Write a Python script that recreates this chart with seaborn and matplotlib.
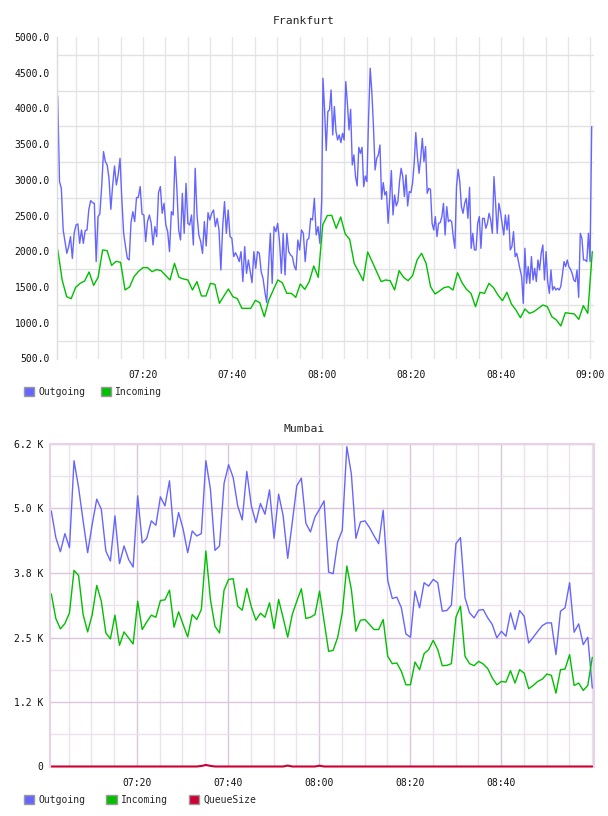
import numpy as np
import pandas as pd
import matplotlib
matplotlib.use("Agg")
import matplotlib.pyplot as plt
import matplotlib.dates as mdates
from matplotlib.patches import Patch
from matplotlib.ticker import FuncFormatter
import seaborn as sns

# Frankfurt - outgoing (two stretches: 07:01-08:00 and 08:00-09:00), incoming once a minute
fra_out_a = [
    4175, 2976, 2882, 2299, 2136, 1972, 2066, 2206, 1902, 2252,
    2369, 2383, 2112, 2299, 2112, 2290, 2299, 2588, 2710, 2682,
    2672, 1856, 2486, 2523, 2906, 3396, 3256, 3209, 3022, 2588,
    2929, 3195, 2929, 3069, 3302, 2719, 2252, 2066, 1902, 1879,
    2402, 2555, 2416, 2752, 2756, 2906, 2523, 2509, 2136, 2416,
    2509, 2392, 2089, 2346, 2206, 2822, 2906, 2532, 2672, 2369,
    2276, 1996, 2555, 2509, 3326, 2882, 2299, 2159, 2812, 2252,
    2952, 2392, 2369, 2509, 2089, 3162, 2509, 2229, 2136, 1972,
    2416, 2075, 2541, 2439, 2532, 2579, 2346, 2462, 2299, 1739,
    2346, 2696, 2252, 2579, 2206, 2182, 1926, 1981, 1926, 1856,
    1996, 1576, 2066, 1692, 1879, 1715, 1561, 1996, 1762, 1996,
    1972, 1715, 1622, 1435, 1281, 1786, 2252, 1552, 2346, 2276,
    2392, 2136, 1692, 2252, 1669, 2252, 1996, 1949, 1926, 1795,
    1739, 2159, 2019, 2299, 2252, 1856, 2159, 2182, 2462, 2439,
    2742, 2229, 2346, 2112, 2719,
]
fra_out_b = [
    4422,
    3979, 3410, 3956, 3979, 4259, 3629, 4026, 3676, 3559, 3629,
    3522, 3652, 3559, 4376, 4072, 3699, 3988, 3209, 3349, 3046,
    2915, 3456, 3372, 3456, 2906, 3055, 2976, 3862, 4562, 4236,
    3746, 3139, 3302, 3349, 3489, 2728, 2962, 2789, 2836, 2392,
    2742, 3130, 2509, 2789, 2635, 2696, 2976, 3162, 3046, 2766,
    3069, 2635, 2836, 2822, 2952, 3232, 3662, 3326, 3092, 3302,
    3582, 3256, 3466, 2812, 2882, 2868, 2392, 2299, 2486, 2206,
    2392, 2402, 2486, 2672, 2229, 2626, 2416, 2439, 2416, 2206,
    2042, 2906, 3148, 2976, 2626, 2532, 2672, 2742, 2462, 2896,
    2042, 2252, 2019, 2019, 2392, 2486, 2042, 2462, 2462, 2322,
    2392, 2532, 2439, 2252, 3046, 2672, 2252, 2672, 2555, 2392,
    2229, 2509, 2299, 2509, 2019, 2066, 2276, 1926, 1972, 1856,
    1748, 1646, 1272, 2042, 1552, 1786, 1552, 1926, 1599, 1762,
    1576, 1879, 1739, 1972, 2089, 1599, 1996, 1576, 1412, 1739,
    1459, 1505, 1459, 1482, 1459, 1505, 1669, 1856, 1786, 1879,
    1786, 1748, 1692, 1599, 1576, 1739, 1356, 2252, 2182, 1879,
    1879, 1856, 2252, 1856, 3746,
]
fra_in = [
    2028, 1599, 1365, 1337, 1496, 1552, 1585, 1711, 1524, 1636,
    2019, 2010, 1804, 1860, 1846, 1459, 1501, 1646, 1720, 1772,
    1772, 1715, 1744, 1730, 1664, 1599, 1832, 1636, 1613, 1599,
    1459, 1576, 1375, 1375, 1552, 1538, 1272, 1375, 1473, 1365,
    1337, 1202, 1202, 1202, 1314, 1281, 1085, 1319, 1459, 1599,
    1561, 1412, 1412, 1356, 1543, 1468, 1576, 1795, 1636, 2369,
    2500, 2504, 2322, 2481, 2243, 2168, 1832, 1715, 1589, 1991,
    1856, 1715, 1576, 1599, 1589, 1459, 1730, 1636, 1589, 1659,
    1879, 1972, 1832, 1505, 1403, 1445, 1492, 1505, 1459, 1701,
    1561, 1468, 1412, 1225, 1426, 1412, 1552, 1492, 1389, 1309,
    1426, 1263, 1179, 1071, 1193, 1132, 1155, 1202, 1249, 1225,
    1085, 1039, 955, 1141, 1132, 1123, 1048, 1240, 1132, 1996,
]

# Mumbai - one sample a minute
mum_out = [
    4954, 4436, 4163, 4513, 4241, 5926, 5408, 4760, 4144, 4695,
    5181, 4986, 4176, 3982, 4857, 3930, 4274, 4014, 3865, 5246,
    4332, 4423, 4760, 4675, 5226, 5051, 5537, 4449, 4922, 4598,
    4144, 4565, 4468, 4513, 5926, 5375, 4189, 4274, 5485, 5848,
    5602, 5051, 4779, 5719, 5051, 4727, 5097, 4889, 5362, 4423,
    5278, 4857, 4034, 4727, 5440, 5589, 4714, 4546, 4837,
    4986, 5148, 3768, 3736, 4358, 4578, 6198, 5667, 4423, 4740,
    4760, 4630, 4468, 4319, 4967, 3606, 3256, 3282, 3075, 2569,
    2505, 3399, 3075, 3561, 3496, 3626, 3561, 3010, 3023, 3127,
    4319, 4436, 3269, 2978, 2880, 3029, 3042, 2880, 2751, 2492,
    2621, 2524, 2978, 2654, 3023, 2913, 2394, 2505, 2621, 2731,
    2783, 2783, 2168, 3010, 3075, 3561, 2602, 2764, 2362, 2505,
    1520,
]
mum_in = [
    3347, 2867, 2667, 2770, 2978, 3801, 3703, 2945, 2608, 2945,
    3509, 3204, 2589, 2472, 2932, 2349, 2608, 2492, 2375, 3204,
    2654, 2803, 2932, 2893, 3217, 3230, 3418, 2699, 2997, 2751,
    2511, 2945, 2848, 3042, 4176, 3237, 2718, 2589, 3418, 3626,
    3639, 3107, 3029, 3451, 3094, 2835, 2971, 2893, 3172, 2673,
    3237, 2880, 2505, 2945, 3204, 3444, 2867, 2893, 2945,
    3399, 2816, 2232, 2252, 2505, 2978, 3885, 3431, 2621, 2835,
    2848, 2751, 2654, 2654, 2848, 2135, 1993, 2006, 1844, 1584,
    1584, 2025, 1876, 2187, 2265, 2446, 2265, 1954, 1960, 1993,
    2893, 3107, 2135, 1993, 1954, 2038, 1986, 1896, 1714, 1584,
    1649, 1636, 1857, 1617, 1876, 1811, 1507, 1571, 1649, 1694,
    1792, 1766, 1422, 1876, 1889, 2168, 1571, 1617, 1474, 1571,
    2116,
]
mum_queue = [
    0, 0, 0, 0, 0, 0, 0, 0, 0, 0, 0, 0, 0, 0, 0, 0, 0, 0, 0, 0,
    0, 0, 0, 0, 0, 0, 0, 0, 0, 0, 0, 0, 0, 10, 30, 12, 0, 0, 0, 0,
    0, 0, 0, 0, 0, 0, 0, 0, 0, 0, 0, 0, 18, 0, 0, 0, 0, 0, 0, 15,
    0, 0, 0, 0, 0, 0, 0, 0, 0, 0, 0, 0, 0, 0, 0, 0, 0, 0, 0, 0,
    0, 0, 0, 0, 0, 0, 0, 0, 0, 0, 0, 0, 0, 0, 0, 0, 0, 0, 0, 0,
    0, 0, 0, 0, 0, 0, 0, 0, 0, 0, 0, 0, 0, 0, 0, 0, 0, 0, 0, 0,
]

BLUE = "#6666ff"
GREEN = "#00c000"
RED = "#cc0033"
day = "2024-01-01 "

sns.set_style("white")
plt.rcParams["font.family"] = ["DejaVu Sans Mono", "DejaVu Sans"]

# timestamps for each series
fra_out_t = pd.date_range(day + "07:00:56", day + "07:59:56", periods=len(fra_out_a)).append(
    pd.date_range(day + "08:00:13", day + "09:00:16", periods=len(fra_out_b)))
fra_in_t = pd.date_range(day + "07:00:56", day + "09:00:24", periods=len(fra_in))
mum_t = pd.date_range(day + "07:01:10", day + "09:00:04", periods=len(mum_out))

fra = pd.concat([
    pd.DataFrame({"time": fra_out_t, "value": fra_out_a + fra_out_b, "series": "Outgoing"}),
    pd.DataFrame({"time": fra_in_t, "value": fra_in, "series": "Incoming"}),
])
mum = pd.concat([
    pd.DataFrame({"time": mum_t, "value": mum_out, "series": "Outgoing"}),
    pd.DataFrame({"time": mum_t, "value": mum_in, "series": "Incoming"}),
])
queue = pd.DataFrame({"time": mum_t, "value": mum_queue})

fig = plt.figure(figsize=(6.08, 8.16), dpi=100)
W, H = 608.0, 816.0
ax1 = fig.add_axes([57 / W, 1 - 358.5 / H, 537 / W, 321.5 / H])
ax2 = fig.add_axes([50 / W, 1 - 766.5 / H, 544 / W, 322.5 / H])

pal = {"Outgoing": BLUE, "Incoming": GREEN}

# ---- Frankfurt ----
sns.lineplot(data=fra, x="time", y="value", hue="series", hue_order=["Outgoing", "Incoming"],
             palette=pal, linewidth=1.0, estimator=None, legend=False, ax=ax1)
ax1.set_xlim(pd.Timestamp(day + "07:00:47"), pd.Timestamp(day + "09:00:47"))
ax1.set_ylim(500, 5000)
ax1.set_yticks(np.arange(500, 5001, 500))
ax1.set_yticklabels([f"{v:.1f}" for v in np.arange(500, 5001, 500)])
ax1.set_yticks(np.arange(750, 4751, 500), minor=True)
ax1.xaxis.set_major_locator(mdates.MinuteLocator(byminute=[0, 20, 40]))
ax1.xaxis.set_major_formatter(mdates.DateFormatter("%H:%M"))
ax1.xaxis.set_minor_locator(mdates.MinuteLocator(byminute=range(0, 60, 5)))
ax1.grid(False)
ax1.grid(which="minor", axis="y", color="#e2e2e2", linewidth=1.0)
ax1.grid(which="both", axis="x", color="#e6e6e6", linewidth=1.0)
ax1.set_axisbelow(True)
for s in ["top", "right", "bottom"]:
    ax1.spines[s].set_visible(False)
ax1.spines["left"].set_color("#dcdcdc")
ax1.spines["left"].set_linewidth(1.0)
ax1.tick_params(axis="both", which="both", length=0, labelsize=7, colors="#111111")
ax1.tick_params(axis="y", pad=5)
ax1.tick_params(axis="x", pad=8)
ax1.set_xlabel("")
ax1.set_ylabel("")

# ---- Mumbai ----
sns.lineplot(data=mum, x="time", y="value", hue="series", hue_order=["Outgoing", "Incoming"],
             palette=pal, linewidth=1.0, estimator=None, legend=False, ax=ax2)
sns.lineplot(data=queue, x="time", y="value", color=RED, linewidth=1.5, estimator=None, ax=ax2)
ax2.lines[-1].set_clip_on(False)
ax2.set_xlim(pd.Timestamp(day + "07:00:53"), pd.Timestamp(day + "09:00:26"))
ax2.set_ylim(0, 6250)
ax2.set_yticks(np.arange(0, 6251, 1250))
ax2.yaxis.set_major_formatter(FuncFormatter(lambda v, p: "0" if v == 0 else f"{v / 1000:.1f} K"))
ax2.set_yticks(np.arange(625, 6250, 1250), minor=True)
ax2.set_xticks(pd.date_range(day + "07:20", day + "08:40", freq="20min"))
ax2.xaxis.set_major_formatter(mdates.DateFormatter("%H:%M"))
ax2.xaxis.set_minor_locator(mdates.MinuteLocator(byminute=range(0, 60, 5)))
ax2.grid(False)
ax2.grid(which="major", color="#dcc6dc", linewidth=1.0)
ax2.grid(which="minor", color="#ebe2eb", linewidth=1.0)
ax2.set_axisbelow(True)
for s in ["left", "top", "right"]:
    ax2.spines[s].set_color("#e6d3e6")
    ax2.spines[s].set_linewidth(1.5)
ax2.spines["bottom"].set_visible(False)
ax2.tick_params(axis="both", which="both", length=0, labelsize=7, colors="#111111")
ax2.tick_params(axis="y", pad=4.5)
ax2.tick_params(axis="x", pad=8)
ax2.set_xlabel("")
ax2.set_ylabel("")

# titles
fig.text(0.5, 1 - 20.5 / H, "Frankfurt", ha="center", va="center", fontsize=8.2)
fig.text(0.5, 1 - 428.5 / H, "Mumbai", ha="center", va="center", fontsize=8.2)

# legends
def handles(names, colors):
    return [Patch(facecolor=c, edgecolor="#999999", linewidth=1.0, label=n) for n, c in zip(names, colors)]

fig.legend(handles=handles(["Outgoing", "Incoming"], [BLUE, GREEN]), loc="center left",
           bbox_to_anchor=(24 / W, 1 - 392 / H), ncol=2, frameon=False, fontsize=7,
           handlelength=1.05, handleheight=1.05, handletextpad=0.4, columnspacing=1.65,
           borderpad=0, borderaxespad=0)
fig.legend(handles=handles(["Outgoing", "Incoming", "QueueSize"], [BLUE, GREEN, RED]), loc="center left",
           bbox_to_anchor=(24 / W, 1 - 800 / H), ncol=3, frameon=False, fontsize=7,
           handlelength=1.05, handleheight=1.05, handletextpad=0.4, columnspacing=2.2,
           borderpad=0, borderaxespad=0)

fig.savefig("out.png", dpi=100)
